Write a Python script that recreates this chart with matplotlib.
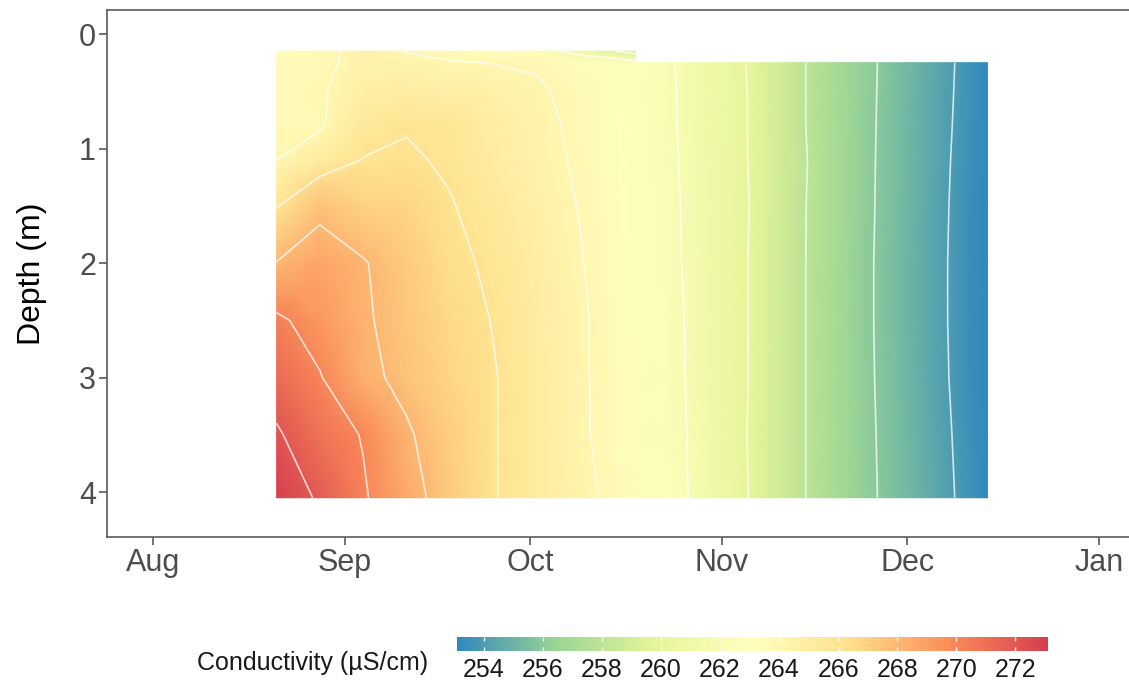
import numpy as np
import matplotlib
matplotlib.use("Agg")
import matplotlib.pyplot as plt
import matplotlib.dates as mdates
from matplotlib.colors import LinearSegmentedColormap

plt.rcParams['font.family'] = ['Liberation Sans', 'DejaVu Sans']

# ---------------- data ----------------
dates = ['2021-08-21', '2021-08-28', '2021-09-04', '2021-09-11', '2021-09-18',
         '2021-09-25', '2021-10-02', '2021-10-09', '2021-10-16', '2021-10-23',
         '2021-10-30', '2021-11-06', '2021-11-13', '2021-11-20', '2021-11-27',
         '2021-12-04', '2021-12-11', '2021-12-14']
depths = [0.25, 0.5, 0.8, 1.1, 1.5, 2.0, 2.5, 3.0, 3.5, 4.05]

# conductivity profiles (one list per date, top -> bottom)
profiles = [
    [263.5, 263.55, 263.6, 263.98, 265.9, 268.05, 270.3, 271.2, 272.2, 273.0],
    [263.7, 263.85, 263.8, 265.1, 267.6, 268.8, 269.3, 270.1, 270.9, 271.8],
    [264.4, 264.7, 265.4, 266.05, 267.0, 268.1, 268.2, 268.4, 269.9, 270.2],
    [264.3, 265.0, 265.9, 266.2, 266.8, 267.3, 267.4, 267.6, 268.2, 268.6],
    [264.1, 264.8, 265.6, 265.8, 266.1, 266.45, 266.66, 266.8, 267.1, 267.3],
    [263.97, 264.6, 264.9, 265.1, 265.4, 265.7, 265.95, 266.1, 266.1, 266.1],
    [263.85, 264.2, 264.4, 264.5, 264.7, 264.9, 265.1, 265.2, 265.2, 265.2],
    [263.4, 263.6, 263.7, 263.8, 263.95, 264.1, 264.2, 264.2, 264.2, 264.4],
    [262.8, 262.85, 262.95, 263.0, 263.15, 263.2, 263.3, 263.35, 263.4, 263.5],
    [262.25, 262.28, 262.3, 262.35, 262.4, 262.42, 262.5, 262.55, 262.6, 262.65],
    [261.07, 261.1, 261.1, 261.15, 261.2, 261.25, 261.3, 261.3, 261.35, 261.38],
    [259.8, 259.85, 259.85, 259.85, 259.9, 259.85, 259.85, 259.85, 259.8, 259.85],
    [258.3, 258.3, 258.3, 258.35, 258.3, 258.3, 258.3, 258.3, 258.3, 258.3],
    [257.0, 257.0, 257.0, 257.05, 257.05, 257.0, 257.0, 257.0, 257.0, 257.0],
    [255.87, 255.85, 255.83, 255.8, 255.78, 255.75, 255.75, 255.78, 255.83, 255.87],
    [254.76, 254.74, 254.72, 254.68, 254.64, 254.6, 254.6, 254.64, 254.7, 254.76],
    [253.63, 253.6, 253.55, 253.5, 253.45, 253.42, 253.42, 253.45, 253.55, 253.63],
    [253.15, 253.15, 253.12, 253.1, 253.1, 253.1, 253.1, 253.1, 253.12, 253.15],
]

# shallow surface strip measured only on the early dates
strip_dates = ['2021-08-21', '2021-08-28', '2021-09-04', '2021-09-11', '2021-09-18',
               '2021-09-25', '2021-10-02', '2021-10-09', '2021-10-18']
strip_depths = [0.15, 0.25]
strip_top = [263.4, 263.6, 264.5, 263.95, 263.6, 263.3, 262.8, 261.3, 259.3]
strip_bottom = [263.5, 263.7, 264.4, 264.3, 264.1, 263.97, 263.85, 263.4, 262.6]

contour_levels = [254, 256, 258, 260, 262, 264, 266, 268, 270, 272]
cbar_ticks = [254, 256, 258, 260, 262, 264, 266, 268, 270, 272]
cmin, cmax = 253.1, 273.1

# ---------------- plot ----------------
spectral7 = ['#3288BD', '#99D594', '#E6F598', '#FFFFBF', '#FEE08B', '#FC8D59', '#D53E4F']
cmap = LinearSegmentedColormap.from_list('spec', spectral7, N=256)

W, H = 1129, 685
fig = plt.figure(figsize=(W / 100, H / 100), dpi=100)
ax = fig.add_axes([107 / W, 1 - 537 / H, (W - 107) / W, (537 - 10) / H])

X = mdates.date2num(np.array(dates, dtype='datetime64[D]'))
Z = np.array(profiles).T
mesh = ax.pcolormesh(X, depths, Z, shading='gouraud', cmap=cmap, vmin=cmin, vmax=cmax)
ax.contour(X, depths, Z, levels=contour_levels, colors='white', linewidths=1.2, alpha=0.75)

XS = mdates.date2num(np.array(strip_dates, dtype='datetime64[D]'))
ZS = np.array([strip_top, strip_bottom])
ax.pcolormesh(XS, strip_depths, ZS, shading='gouraud', cmap=cmap, vmin=cmin, vmax=cmax)
ax.contour(XS, strip_depths, ZS, levels=contour_levels, colors='white', linewidths=1.2, alpha=0.75)

aug1 = mdates.date2num(np.datetime64('2021-08-01'))
ax.set_xlim(aug1 - 7.44, aug1 + 157.9)
ax.set_ylim(4.393, -0.21)
ax.xaxis.set_major_locator(mdates.MonthLocator())
ax.xaxis.set_major_formatter(mdates.DateFormatter('%b'))
ax.set_yticks([0, 1, 2, 3, 4])

for s in ['left', 'bottom', 'top']:
    ax.spines[s].set_color('#5a5a5a')
    ax.spines[s].set_linewidth(1.2)
ax.spines['right'].set_visible(False)
ax.tick_params(axis='both', colors='#5a5a5a', length=6, width=1.2, labelsize=22,
               labelcolor='#4D4D4D')
ax.tick_params(axis='y', pad=2)
ax.tick_params(axis='x', pad=2)
ax.set_ylabel('Depth (m)', fontsize=23, color='black', labelpad=23)

# colorbar
cax = fig.add_axes([457 / W, 1 - 651 / H, (1048 - 457) / W, 14 / H])
cb = fig.colorbar(mesh, cax=cax, orientation='horizontal', ticks=cbar_ticks)
cb.outline.set_visible(False)
cax.tick_params(axis='x', direction='in', color='white', length=3, width=1,
                top=True, bottom=True, labelsize=18, labelcolor='#1a1a1a', pad=5)
fig.text(197 / W, 1 - 663 / H, 'Conductivity (µS/cm)', fontsize=18,
         ha='left', va='center', color='#1a1a1a')

fig.savefig('out.png', dpi=100)
